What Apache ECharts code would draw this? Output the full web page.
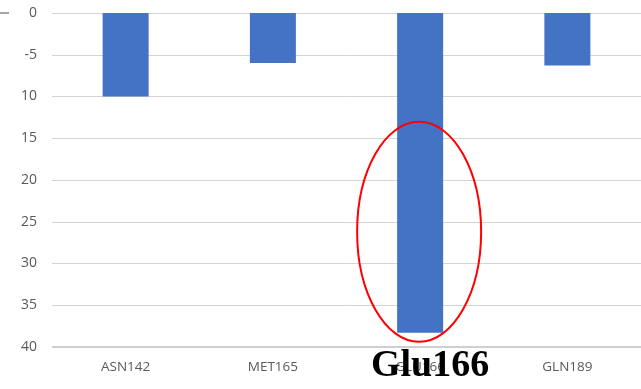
<!DOCTYPE html>
<html>
<head>
<meta charset="utf-8">
<script src="https://cdn.jsdelivr.net/npm/echarts@6/dist/echarts.min.js"></script>
<style>
  html, body { margin: 0; padding: 0; background: #fff; }
  #chart { width: 641px; height: 389px; }
</style>
</head>
<body>
<div id="chart"></div>
<script>
// Residues and their interaction energies
const residues = ['ASN142', 'MET165', 'GLU166', 'GLN189'];
const energies = [-10, -6, -38.3, -6.3];
// Tick labels as printed on the value axis, keyed by tick value
const tickValues = [0, -5, -10, -15, -20, -25, -30, -35, -40];
const tickLabels = ['0', '-5', '10', '15', '20', '25', '30', '35', '40'];
// Highlighted residue and its caption
const highlightResidue = 'GLU166';
const highlightCaption = 'Glu166';

const chart = echarts.init(document.getElementById('chart'), null, { renderer: 'canvas' });

const labelFor = {};
tickValues.forEach((v, i) => { labelFor[v] = tickLabels[i]; });

const option = {
  animation: false,
  backgroundColor: '#ffffff',
  grid: { left: 52, right: -3, top: 13, bottom: 42, containLabel: false },
  xAxis: {
    type: 'category',
    data: residues,
    position: 'bottom',
    axisLine: { show: false },
    axisTick: { show: false },
    axisLabel: {
      color: '#595959',
      fontFamily: 'Open Sans',
      fontSize: 13.5,
      margin: 13
    }
  },
  yAxis: {
    type: 'value',
    min: -40,
    max: 0,
    interval: 5,
    axisLine: { show: false },
    axisTick: { show: false },
    splitLine: { lineStyle: { color: '#d4d4d4', width: 1 } },
    axisLabel: {
      color: '#595959',
      fontFamily: 'Open Sans',
      fontSize: 14,
      margin: 15,
      formatter: v => (v in labelFor ? labelFor[v] : String(v))
    }
  },
  series: [{
    type: 'bar',
    data: energies,
    barWidth: 46,
    itemStyle: { color: '#4472c4' },
    markLine: {
      silent: true,
      symbol: 'none',
      label: { show: false },
      lineStyle: { color: '#cfcfcf', type: 'solid', width: 2 },
      data: [{ yAxis: -40 }]
    }
  }]
};

chart.setOption(option);

// Annotation: ellipse around the highlighted bar and a bold caption under it
function drawAnnotations() {
  const idx = residues.indexOf(highlightResidue);
  const val = energies[idx];
  const top = chart.convertToPixel({ xAxisIndex: 0, yAxisIndex: 0 }, [idx, 0]);
  const bottom = chart.convertToPixel({ xAxisIndex: 0, yAxisIndex: 0 }, [idx, val]);
  const cx = top[0] - 1;
  const cy = bottom[1] - 101;
  chart.setOption({
    graphic: [
      {
        type: 'ellipse',
        shape: { cx: cx, cy: cy, rx: 62, ry: 110 },
        style: { fill: 'none', stroke: '#ff0000', lineWidth: 2 },
        z: 10
      },
      {
        type: 'text',
        x: top[0] + 10,
        y: 385,
        style: {
          text: highlightCaption,
          font: 'bold 38px "Liberation Serif", "Times New Roman", serif',
          fill: '#000000',
          textAlign: 'center',
          textVerticalAlign: 'bottom'
        },
        z: 11
      },
      {
        type: 'line',
        shape: { x1: 0, y1: 13, x2: 9, y2: 13 },
        style: { stroke: '#a6a6a6', lineWidth: 2 },
        z: 5
      }
    ]
  });
}
drawAnnotations();
</script>
</body>
</html>
